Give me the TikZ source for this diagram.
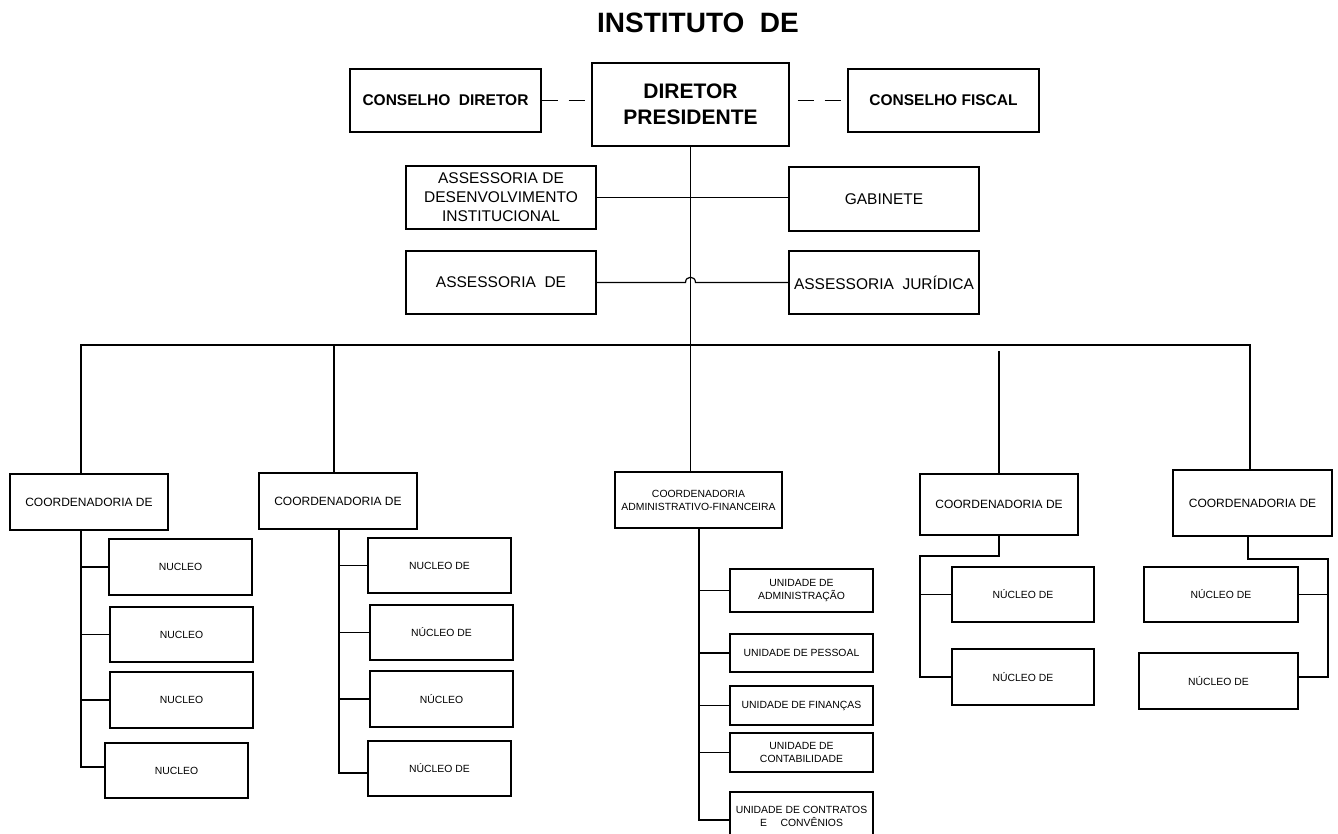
\documentclass[tikz,border=0pt]{standalone}
\usepackage{fontspec}
\setmainfont{Liberation Sans}
\begin{document}
\begin{tikzpicture}[x=1pt,y=-1pt,
  box/.style={draw, line width=1.2pt, inner sep=0pt, align=center},
  link/.style={line width=1.2pt},
  dashlink/.style={line width=1.4pt, dash pattern=on 16pt off 11pt},
  fTitle/.style={font=\fontsize{28}{32}\selectfont\bfseries},
  fTop/.style={font=\fontsize{15.5}{19}\selectfont\bfseries},
  fDP/.style={font=\fontsize{21}{26}\selectfont\bfseries},
  fAss/.style={font=\fontsize{15.5}{19}\selectfont},
  fCoord/.style={font=\fontsize{12}{14}\selectfont},
  fSmall/.style={font=\fontsize{10.4}{13}\selectfont}]
\useasboundingbox (0,0) rectangle (1338,834);

% title
\node[fTitle] (title) at (698,23) {INSTITUTO\ \ DE};

% top level
\node[box,fTop,minimum width=191pt,minimum height=63pt] (cd) at (445.5,100.5) {CONSELHO\ \ DIRETOR};
\node[box,fDP,minimum width=197pt,minimum height=83pt] (dp) at (690.5,104.5) {DIRETOR\\PRESIDENTE};
\node[box,fTop,minimum width=191pt,minimum height=63pt] (cf) at (943.5,100.5) {CONSELHO FISCAL};

\node[box,fAss,minimum width=190pt,minimum height=63pt] (adi) at (501,197.5) {ASSESSORIA DE\\DESENVOLVIMENTO\\INSTITUCIONAL};
\node[box,fAss,minimum width=190pt,minimum height=64pt] (gab) at (884,199) {GABINETE};
\node[box,fAss,minimum width=190pt,minimum height=63pt] (ad) at (501,282.5) {ASSESSORIA\ \ DE};
\node[box,fAss,minimum width=190pt,minimum height=63pt] (aj) at (884,282.5) {ASSESSORIA\ \ JURÍDICA};

% coordinators
\node[box,fCoord,minimum width=158pt,minimum height=56pt] (c1) at (89,502) {COORDENADORIA DE};
\node[box,fCoord,minimum width=158pt,minimum height=56pt] (c2) at (338,501) {COORDENADORIA DE};
\node[box,fSmall,minimum width=167pt,minimum height=56pt] (caf) at (698.5,500) {COORDENADORIA\\ADMINISTRATIVO-FINANCEIRA};
\node[box,fCoord,minimum width=158pt,minimum height=61pt] (c4) at (999,504.5) {COORDENADORIA DE};
\node[box,fCoord,minimum width=159pt,minimum height=66pt] (c5) at (1252.5,503) {COORDENADORIA DE};

% C1 children
\node[box,fSmall,minimum width=143pt,minimum height=56pt] (n11) at (180.5,567) {NUCLEO};
\node[box,fSmall,minimum width=143pt,minimum height=55pt] (n12) at (181.5,634.5) {NUCLEO};
\node[box,fSmall,minimum width=143pt,minimum height=56pt] (n13) at (181.5,700) {NUCLEO};
\node[box,fSmall,minimum width=143pt,minimum height=55pt] (n14) at (176.5,770.5) {NUCLEO};

% C2 children
\node[box,fSmall,minimum width=143pt,minimum height=55pt] (n21) at (439.5,565.5) {NUCLEO DE};
\node[box,fSmall,minimum width=143pt,minimum height=55pt] (n22) at (441.5,632.5) {NÚCLEO DE};
\node[box,fSmall,minimum width=143pt,minimum height=56pt] (n23) at (441.5,699) {NÚCLEO};
\node[box,fSmall,minimum width=143pt,minimum height=55pt] (n24) at (439.5,768.5) {NÚCLEO DE};

% CAF children
\node[box,fSmall,minimum width=143pt,minimum height=43pt] (u1) at (801.5,590.5) {UNIDADE DE\\ADMINISTRAÇÃO};
\node[box,fSmall,minimum width=143pt,minimum height=38pt] (u2) at (801.5,653) {UNIDADE DE PESSOAL};
\node[box,fSmall,minimum width=143pt,minimum height=39pt] (u3) at (801.5,705.5) {UNIDADE DE FINANÇAS};
\node[box,fSmall,minimum width=143pt,minimum height=39pt] (u4) at (801.5,752.5) {UNIDADE DE\\CONTABILIDADE};
\node[box,fSmall,minimum width=143pt,minimum height=48pt] (u5) at (801.5,816) {UNIDADE DE CONTRATOS\\E\hspace{1.3em}CONVÊNIOS};

% C4 children
\node[box,fSmall,minimum width=142pt,minimum height=55pt] (n41) at (1023,594.5) {NÚCLEO DE};
\node[box,fSmall,minimum width=142pt,minimum height=56pt] (n42) at (1023,677) {NÚCLEO DE};

% C5 children
\node[box,fSmall,minimum width=154pt,minimum height=55pt] (n51) at (1221,594.5) {NÚCLEO DE};
\node[box,fSmall,minimum width=159pt,minimum height=56pt] (n52) at (1218.5,681) {NÚCLEO DE};

% dashed links
\draw[dashlink] (cd.east) -- (cd.east -| dp.west);
\draw[dashlink, dash phase=19pt] (dp.east |- cf.west) -- (cf.west);

% main spine
\coordinate (j1) at (81,345);
\coordinate (j2) at (334,345);
\coordinate (j3) at (690.5,345);
\coordinate (j4) at (999,345);
\coordinate (j5) at (1250,345);
\draw[link] (dp.south) -- (j3);

% staff links
\draw[link] (adi.east) -- (adi.east -| gab.west);
\coordinate (hop) at (dp.south |- ad.east);
\draw[link] (ad.east) -- ([xshift=-5pt]hop) .. controls ([xshift=-5pt,yshift=7pt]hop) and ([xshift=5pt,yshift=7pt]hop) .. ([xshift=5pt]hop) -- (aj.west);

% bus and drops
\draw[link] (j1 |- c1.north) -- (j1) -- (j5) -- (j5 |- c5.north);
\draw[link] (j2) -- (j2 |- c2.north);
\draw[link] (j3) -- (j3 |- caf.north);
\draw[link] ([yshift=-6pt]j4) -- (j4 |- c4.north);

% C1 tree
\coordinate (s1) at (81,767);
\draw[link] (s1 |- c1.south) -- (s1) -- (s1 -| n14.west);
\draw[link] (s1 |- n11.west) -- (n11.west);
\draw[link] (s1 |- n12.west) -- (n12.west);
\draw[link] (s1 |- n13.west) -- (n13.west);

% C2 tree
\coordinate (s2) at (339,773);
\draw[link] (s2 |- c2.south) -- (s2) -- (s2 -| n24.west);
\draw[link] (s2 |- n21.west) -- (n21.west);
\draw[link] (s2 |- n22.west) -- (n22.west);
\draw[link] (s2 |- n23.west) -- (n23.west);

% CAF tree
\coordinate (s3) at (699,820);
\draw[link] (s3 |- caf.south) -- (s3) -- (s3 -| u5.west);
\draw[link] (s3 |- u1.west) -- (u1.west);
\draw[link] (s3 |- u2.west) -- (u2.west);
\draw[link] (s3 |- u3.west) -- (u3.west);
\draw[link] (s3 |- u4.west) -- (u4.west);

% C4 tree
\coordinate (k4) at (920,556);
\draw[link] (c4.south) -- (c4.south |- k4) -- (k4) -- (k4 |- n42.west) -- (n42.west);
\draw[link] (k4 |- n41.west) -- (n41.west);

% C5 tree
\coordinate (t5) at (1248,559);
\coordinate (k5) at (1328,559);
\coordinate (k5b) at (1328,677);
\draw[link] (t5 |- c5.south) -- (t5) -- (k5) -- (k5b) -- (k5b -| n52.east);
\draw[link] (k5 |- n51.east) -- (n51.east);
\end{tikzpicture}
\end{document}
